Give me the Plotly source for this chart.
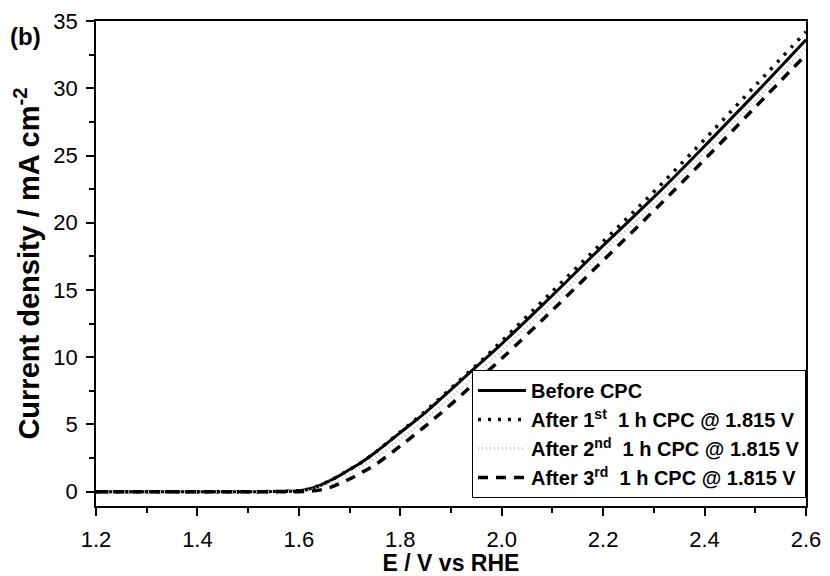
import plotly.graph_objects as go

E = [1.2, 1.3, 1.4, 1.5, 1.55, 1.6, 1.62, 1.64, 1.66, 1.68, 1.7, 1.72, 1.75,
     1.8, 1.85, 1.9, 1.95, 2.0, 2.1, 2.2, 2.3, 2.4, 2.5, 2.6]
before_cpc = [0, 0, 0, 0, 0.02, 0.08, 0.2, 0.45, 0.8, 1.2, 1.65, 2.1, 2.9,
              4.4, 5.9, 7.6, 9.3, 11.0, 14.6, 18.3, 21.9, 25.7, 29.6, 33.6]
after_1st = [0, 0, 0, 0, 0.02, 0.08, 0.2, 0.45, 0.8, 1.2, 1.65, 2.1, 2.9,
             4.45, 6.0, 7.7, 9.4, 11.2, 14.9, 18.6, 22.3, 26.2, 30.2, 34.2]
after_2nd = [0, 0, 0, 0, 0.01, 0.03, 0.1, 0.3, 0.6, 0.95, 1.35, 1.8, 2.5,
             3.9, 5.4, 7.0, 8.7, 10.5, 14.1, 17.8, 21.4, 25.2, 29.1, 33.0]
after_3rd = [0, 0, 0, 0, 0, 0, 0.03, 0.12, 0.3, 0.6, 0.95, 1.35, 2.0,
             3.4, 4.9, 6.5, 8.2, 9.9, 13.5, 17.2, 20.9, 24.7, 28.6, 32.5]

names = [
    "Before CPC",
    "After 1<sup>st</sup>\u00a0\u00a01 h CPC @ 1.815 V",
    "After 2<sup>nd</sup>\u00a0\u00a01 h CPC @ 1.815 V",
    "After 3<sup>rd</sup>\u00a0\u00a01 h CPC @ 1.815 V",
]
series = [before_cpc, after_1st, after_2nd, after_3rd]
styles = [
    dict(color="black", width=3, dash="solid"),
    dict(color="black", width=3.5, dash="3px,7px"),
    dict(color="#c8c8c8", width=3, dash="1px,3px"),
    dict(color="black", width=3.5, dash="10px,8px"),
]

fig = go.Figure()
for n, s, st in zip(names, series, styles):
    fig.add_trace(go.Scatter(x=E, y=s, mode="lines", name=n,
                             line=dict(shape="spline", **st)))

font_fam = "Liberation Sans, Arial, sans-serif"
fig.update_layout(
    width=830, height=576,
    margin=dict(l=96, r=24, t=21, b=70, autoexpand=False),
    plot_bgcolor="white", paper_bgcolor="white",
    font=dict(family=font_fam, color="black"),
    showlegend=True,
    legend=dict(x=1, xanchor="right", y=0.0165, yanchor="bottom",
                bgcolor="white", bordercolor="black", borderwidth=1,
                font=dict(size=20, family=font_fam, weight="bold"),
                itemwidth=48, tracegroupgap=0),
    xaxis=dict(range=[1.2, 2.6], dtick=0.2, tick0=1.2, tickformat=".1f",
               showgrid=False, zeroline=False, automargin=False,
               showline=True, linecolor="black", linewidth=1.5, mirror=True,
               ticks="outside", ticklen=8, tickwidth=1.5, tickcolor="black",
               tickfont=dict(size=22), ticklabelstandoff=5,
               minor=dict(dtick=0.1, ticks="outside", ticklen=5, tickwidth=1.5,
                          tickcolor="black", showgrid=False),
               title=dict(text="<b>E / V vs RHE</b>", font=dict(size=23), standoff=4)),
    yaxis=dict(range=[-1.06, 35], dtick=5, tick0=0,
               showgrid=False, zeroline=False, automargin=False,
               showline=True, linecolor="black", linewidth=1.5, mirror=True,
               ticks="outside", ticklen=8, tickwidth=1.5, tickcolor="black",
               tickfont=dict(size=22), ticklabelstandoff=4,
               minor=dict(dtick=2.5, ticks="outside", ticklen=5, tickwidth=1.5,
                          tickcolor="black", showgrid=False),
               title=dict(text="<b>Current density / mA cm<sup>-2</sup></b>",
                          font=dict(size=29), standoff=5)),
)
fig.add_annotation(text="<b>(b)</b>", xref="paper", yref="paper",
                   x=-0.099, y=0.969, xanchor="center", yanchor="middle",
                   showarrow=False, font=dict(size=24, family=font_fam))
fig.write_html("out.html")
